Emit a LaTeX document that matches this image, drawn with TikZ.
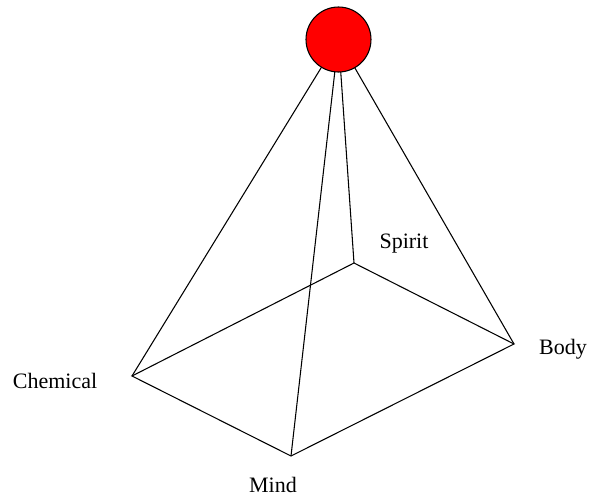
\documentclass[tikz,border=0pt]{standalone}
\usepackage{fontspec}
\setmainfont{Liberation Serif}
\usetikzlibrary{positioning}

\begin{document}
\begin{tikzpicture}[x=0.75pt,y=-0.75pt,every node/.style={font=\fontsize{16.5}{19}\selectfont}]
\useasboundingbox (0,0) rectangle (590,497);
\coordinate (apex) at (338.5,39.5);
\coordinate (chem) at (132,376);
\coordinate (mind) at (291,456);
\coordinate (body) at (514,344);
\coordinate (spir) at (354,263);
\draw[line width=.8pt] (chem)--(mind)--(body)--(spir)--cycle;
\draw[line width=.8pt](apex)--(chem);
\draw[line width=.8pt](apex)--(mind);
\draw[line width=.8pt](apex)--(body);
\draw[line width=.8pt](apex)--(spir);
\node[circle,draw,line width=.8pt,fill=red,minimum size=48.75pt,inner sep=0pt] (top) at (apex) {};
\node (lchem) at (55,381) {Chemical};
\node (lmind) at (273,485) {Mind};
\node (lspir) at (404,244) {Spirit};
\node (lbody) at (563,349) {Body};
\end{tikzpicture}
\end{document}
